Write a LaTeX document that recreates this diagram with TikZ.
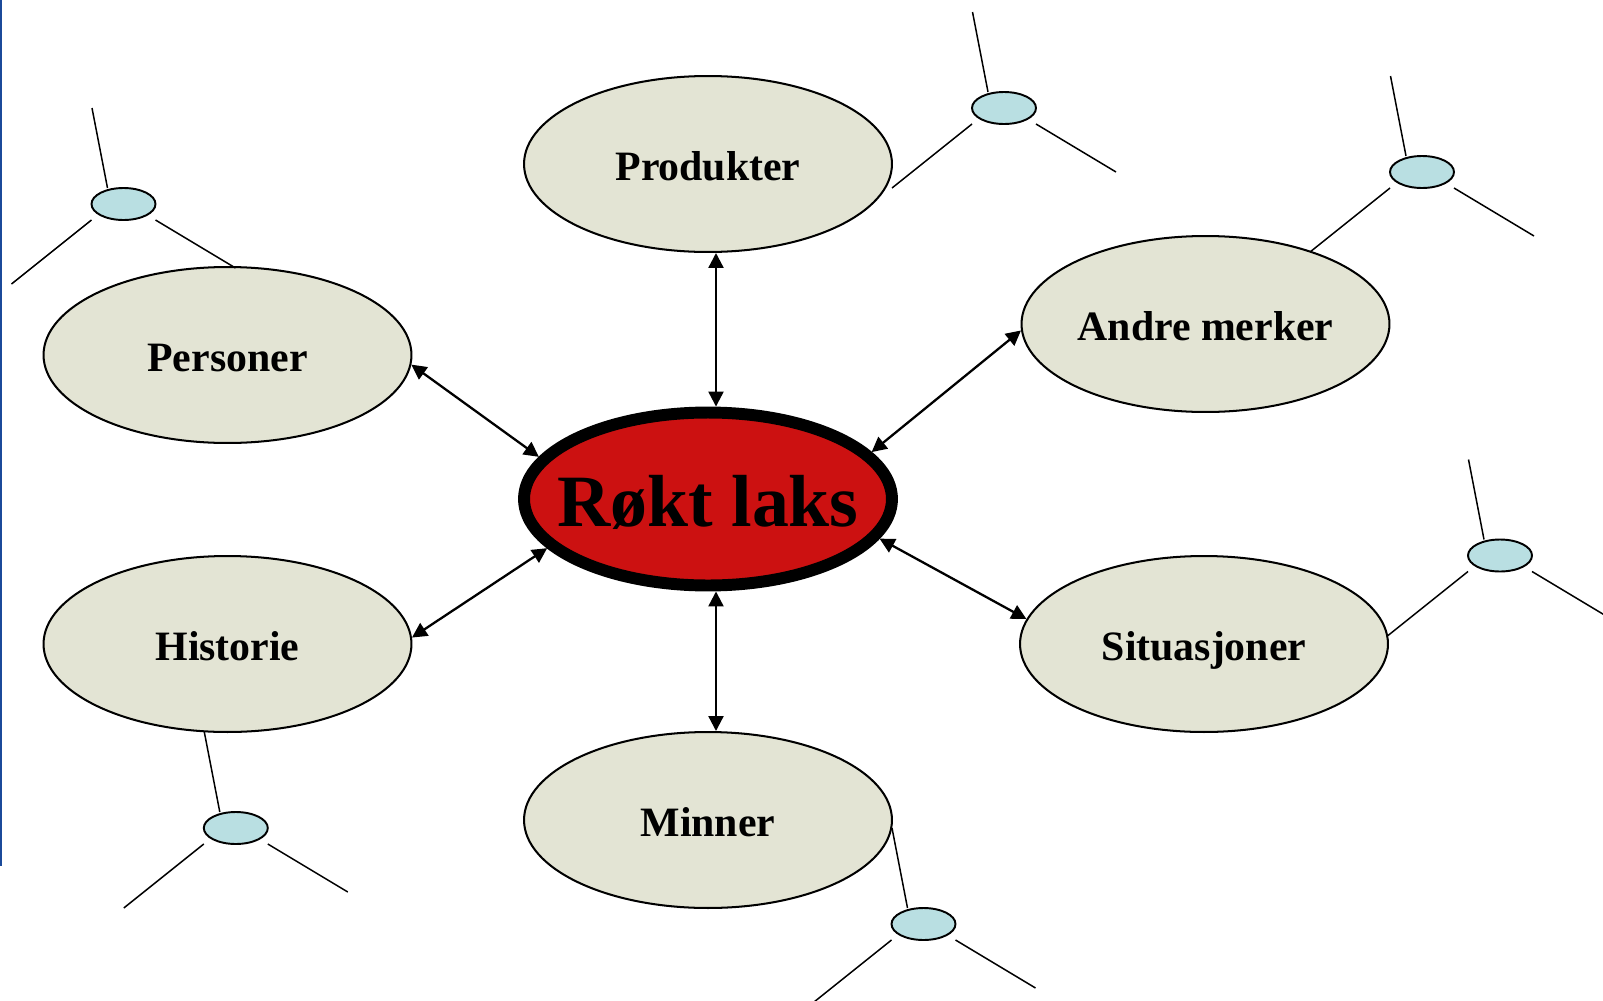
\documentclass[tikz,border=0pt]{standalone}
\usepackage{fontspec}
\setmainfont{Liberation Serif}
\usetikzlibrary{shapes.geometric,arrows.meta,calc}
\definecolor{beige}{RGB}{227,228,212}
\definecolor{satblue}{RGB}{185,223,226}
\definecolor{laksred}{RGB}{204,17,17}
\definecolor{edgeblue}{RGB}{27,74,154}
\begin{document}
\begin{tikzpicture}[x=0.02cm,y=-0.02cm,
  topic/.style={ellipse,draw=black,line width=1.15pt,fill=beige,minimum width=7.36cm,minimum height=3.52cm,inner sep=0pt,font=\fontsize{23.8}{28}\selectfont\bfseries,text height=18.5pt,text depth=0pt},
  hub/.style={ellipse,draw=black,line width=6.8pt,fill=laksred,minimum width=7.36cm,minimum height=3.46cm,inner xsep=-16pt,inner ysep=0pt,font=\fontsize{42}{48}\selectfont\bfseries,text height=31.6pt,text depth=0pt},
  sat/.style={ellipse,draw=black,line width=1.1pt,fill=satblue,minimum width=1.28cm,minimum height=0.64cm,inner sep=0pt},
  twig/.style={line width=0.85pt},
  link/.style={line width=1.3pt,{Triangle[length=8.5pt,width=8.5pt]}-{Triangle[length=8.5pt,width=8.5pt]}}]
\useasboundingbox (0,0) rectangle (1603,1001);
\fill[edgeblue] (0,0) rectangle (2,866);

\node[hub] (hub) at (708,499) {Røkt laks};
\node[topic] (prod) at (708,164) {Produkter};
\node[topic] (pers) at (227.5,355) {Personer};
\node[topic] (andre) at (1205.5,324) {Andre merker};
\node[topic] (hist) at (227.5,644) {Historie};
\node[topic] (sit) at (1204,644) {Situasjoner};
\node[topic] (minn) at (708,820) {Minner};

\node[sat] (s1) at (123.5,204) {};
\node[sat] (s2) at (1004,108) {};
\node[sat] (s3) at (1422,172) {};
\node[sat] (s4) at (1500,555.5) {};
\node[sat] (s5) at (235.8,828) {};
\node[sat] (s6) at (923.5,924) {};

\foreach \s in {s1,s2,s3,s4,s5,s6} {
  \draw[twig] ($(\s)+(-31.5,-96)$) -- ($(\s)+(-16,-16)$);
  \draw[twig] ($(\s)+(-32,16)$) -- ($(\s)+(-112,80)$);
  \draw[twig] ($(\s)+(32,16)$) -- ($(\s)+(112,64)$);
}

\draw[link] ([xshift=0.16cm]prod.south) -- ([xshift=0.16cm]hub.north);
\draw[link] ([xshift=0.16cm]hub.south) -- ([xshift=0.16cm]minn.north);
\draw[link] (pers.-3.1) -- (hub.166.6);
\draw[link] (hist.2.8) -- (hub.197.2);
\draw[link] (andre.182.6) -- (hub.16.6);
\draw[link] (sit.172.6) -- (hub.-13.6);
\end{tikzpicture}
\end{document}
